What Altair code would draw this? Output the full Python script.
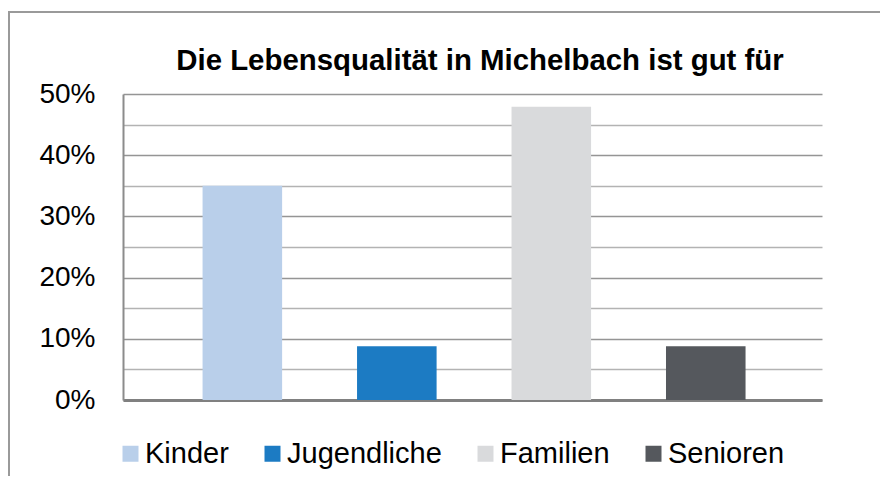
import altair as alt
import pandas as pd

# ---- data ----
categories = ["Kinder", "Jugendliche", "Familien", "Senioren"]
values = [0.35, 0.088, 0.479, 0.088]
colors = ["#B9CFEA", "#1C7BC3", "#D9DADC", "#55585D"]
y_ticks = [0.0, 0.05, 0.10, 0.15, 0.20, 0.25, 0.30, 0.35, 0.40, 0.45, 0.50]
title_text = "Die Lebensqualität in Michelbach ist gut für"

FONT = "Liberation Sans"

df = pd.DataFrame({"Gruppe": categories, "Anteil": values})

bars = alt.Chart(df).mark_bar().encode(
    x=alt.X(
        "Gruppe:N",
        sort=categories,
        scale=alt.Scale(paddingInner=0.485, paddingOuter=0.505, align=0.51),
        axis=alt.Axis(labels=False, ticks=False, title=None, grid=False,
                      domainColor="#808080", domainWidth=3),
    ),
    y=alt.Y(
        "Anteil:Q",
        scale=alt.Scale(domain=[0, 0.5], nice=False),
        axis=alt.Axis(
            values=y_ticks,
            format=".0%",
            labelExpr="round(datum.value*100) % 10 == 0 ? datum.label : ''",
            title=None,
            ticks=False,
            tickSize=0,
            labelPadding=28,
            labelFontSize=28,
            labelFont=FONT,
            labelColor="#000000",
            domainColor="#8c8c8c",
            domainWidth=2,
            grid=True,
            gridColor={"condition": {"test": "round(datum.value*100) % 10 == 0",
                                     "value": "#959595"},
                       "value": "#b3b3b3"},
            gridWidth=1.6,
        ),
    ),
    color=alt.Color(
        "Gruppe:N",
        sort=categories,
        scale=alt.Scale(domain=categories, range=colors),
        legend=alt.Legend(
            orient="none",
            legendX=-7,
            legendY=345,
            direction="horizontal",
            title=None,
            symbolType="square",
            symbolSize=256,
            symbolStrokeWidth=0,
            symbolOpacity=1,
            labelFontSize=29,
            labelFont=FONT,
            labelColor="#000000",
            labelOffset=0,
            columnPadding=29,
            padding=0,
        ),
    ),
)

title_df = pd.DataFrame({"t": [title_text]})
title = alt.Chart(title_df).mark_text(
    font=FONT, fontSize=29.4, fontWeight="bold", color="#000000",
    align="center", baseline="alphabetic",
).encode(x=alt.value(357), y=alt.value(-24), text="t:N")

frame = alt.Chart(pd.DataFrame({"f": [0]})).mark_rect(
    filled=False, stroke="#9a9a9a", strokeWidth=2
).encode(
    x=alt.value(-114), x2=alt.value(800), y=alt.value(-82), y2=alt.value(420)
)

chart = alt.layer(frame, bars, title).properties(
    width=699,
    height=306,
    padding={"left": 115, "top": 86, "right": 58, "bottom": 76},
    autosize=alt.AutoSizeParams(type="none"),
).configure(font=FONT, background="white").configure_view(strokeWidth=0)

chart.save("out.html", embed_options={"renderer": "svg", "actions": False})
